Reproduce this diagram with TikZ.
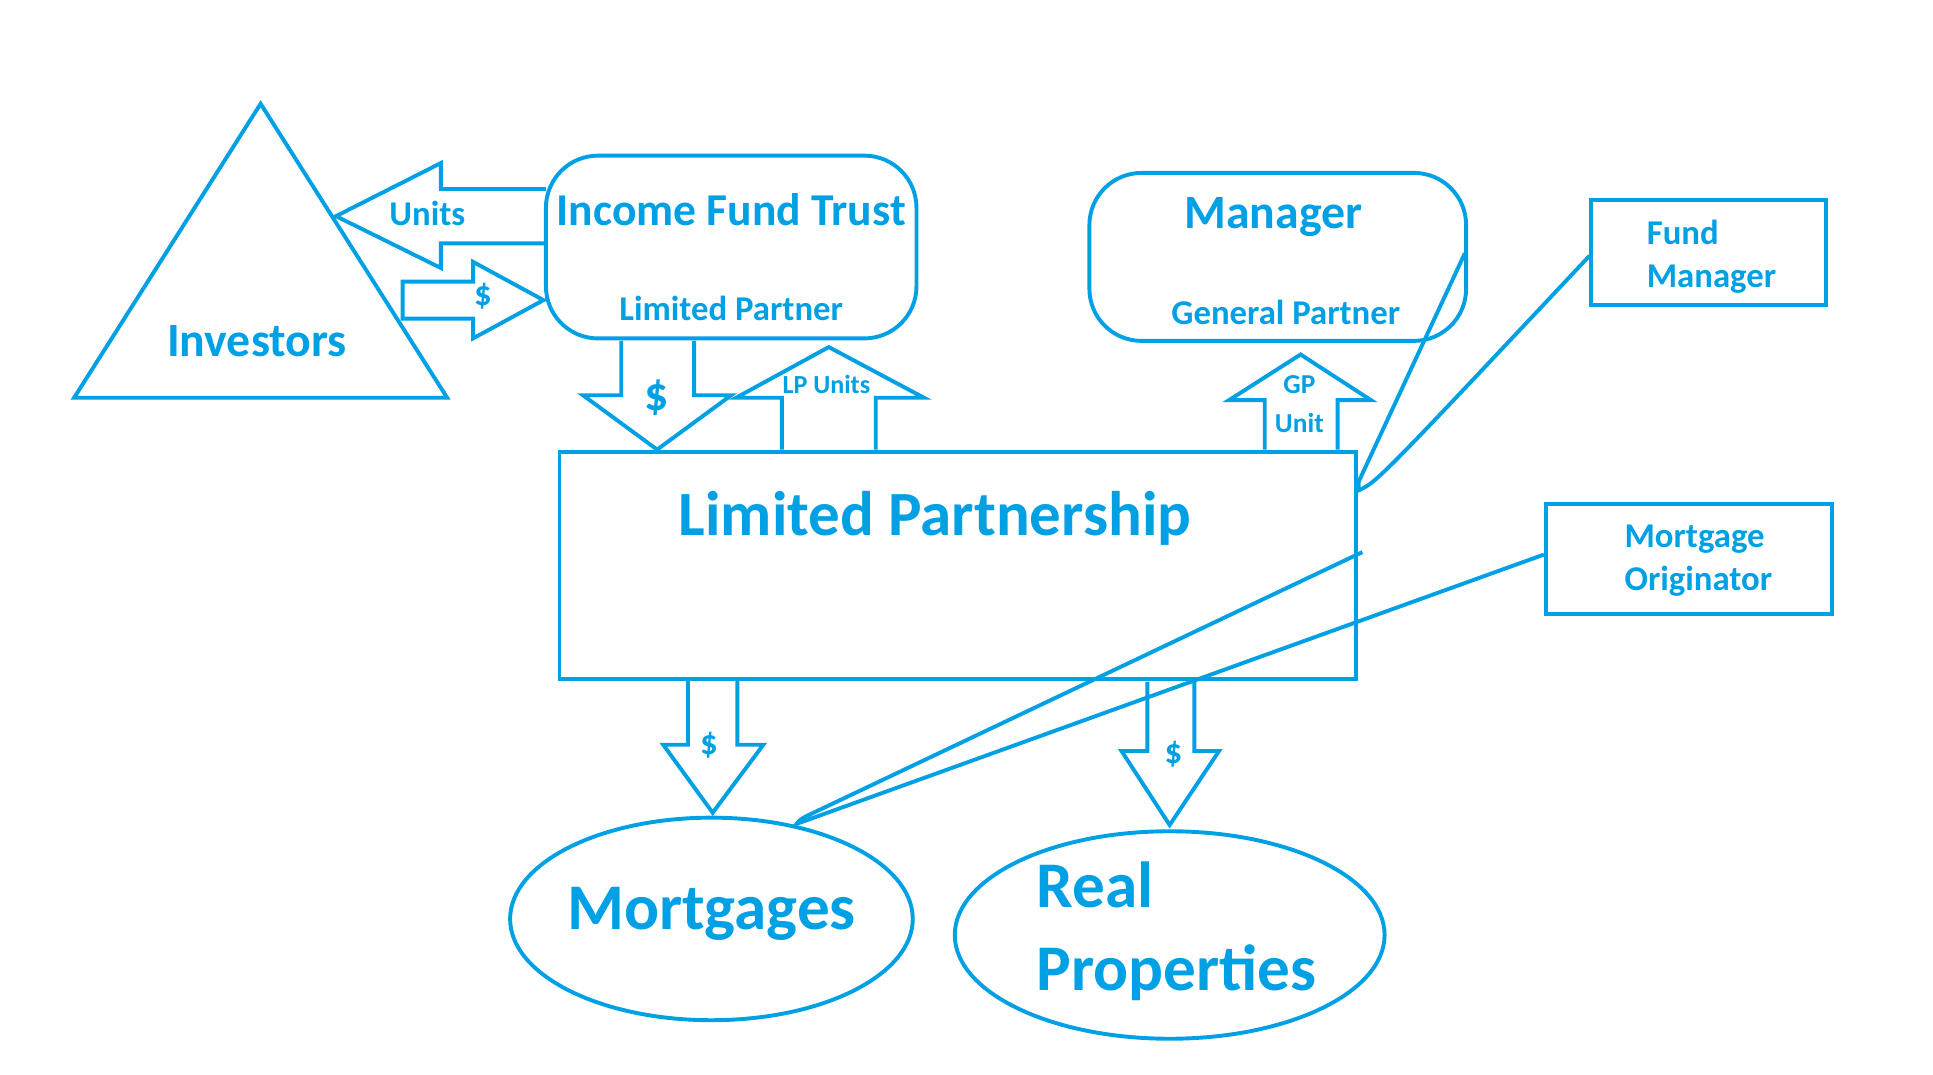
\documentclass[tikz,border=0pt]{standalone}
\usepackage{fontspec}
\setmainfont{Carlito}
\usetikzlibrary{positioning}
\definecolor{sky}{RGB}{0,160,228}

\begin{document}
\begin{tikzpicture}[x=0.01cm,y=-0.01cm,line width=0.9pt,draw=sky,
  every node/.style={text=sky,font=\bfseries},
  box/.style={draw,line width=0.9pt,inner sep=0pt}]
  \useasboundingbox (0,0) rectangle (1565,870);
  % investors
  \draw[line join=miter] (211,84) -- (60,322) -- (362,322) -- cycle;
  \node (inv) at (208,276) {\fontsize{11}{13}\selectfont Investors};
  % trust and manager
  \draw[rounded corners=12pt] (442,126) rectangle (742,274);
  \node (ift) at (592,170) {\fontsize{10.5}{13}\selectfont Income Fund Trust};
  \node (lpr) at (592,250) {\fontsize{8}{10}\selectfont Limited Partner};
  \draw[rounded corners=12pt] (882,140) rectangle (1187,276);
  \node (mgr) at (1031,176) {\fontsize{11}{13}\selectfont Manager};
  \node (gpr) at (1041,253) {\fontsize{8}{10}\selectfont General Partner};
  % block arrows
  \draw (442,153) -- (357,153) -- (357,132) -- (272,175) -- (357,217) -- (357,197) -- (442,197);
  \node at (346,173) {\fontsize{8}{10}\selectfont Units};
  \draw (326,228) -- (383,228) -- (383,212) -- (440,243) -- (383,274) -- (383,258) -- (326,258) -- cycle;
  \node at (391,240) {\fontsize{8}{10}\selectfont \$};
  \draw (503,276) -- (503,320) -- (472,320) -- (532,364) -- (592,320) -- (562,320) -- (562,276);
  \node at (532,322) {\fontsize{11}{13}\selectfont \$};
  \draw (633,364) -- (633,322) -- (596,322) -- (671,281) -- (748,322) -- (709,322) -- (709,364);
  \node at (669,311) {\fontsize{6}{7}\selectfont LP Units};
  \draw (1024,364) -- (1024,324) -- (995,324) -- (1053,287) -- (1110,324) -- (1083,324) -- (1083,364);
  \node[align=center,font=\bfseries\fontsize{6.3}{9}\selectfont] at (1052,327) {GP\\ Unit};
  % limited partnership
  \draw (453,366) rectangle (1098,550);
  \node (lp) at (757,420) {\fontsize{14.5}{17}\selectfont Limited Partnership};
  % side boxes
  \draw (1288,162) rectangle (1478,247);
  \node[align=left,anchor=west,font=\bfseries\fontsize{8}{10}\selectfont] (fm) at (1320,208) {Fund\\ Manager};
  \draw (1252,408) rectangle (1483,497);
  \node[align=left,anchor=west,font=\bfseries\fontsize{8}{10}\selectfont] (mo) at (1302,454) {Mortgage\\ Originator};
  % callouts
  \draw (1186,205) -- (1100,390) -- (1100,397) .. controls (1115,390) .. (1287,207);
  \draw (1103,447) -- (665,655) .. controls (648,663) .. (645,667) -- (1250,449);
  % down arrows
  \draw (557,550) -- (557,603) -- (537,603) -- (577,658) -- (618,603) -- (597,603) -- (597,550);
  \node at (574,603) {\fontsize{8}{10}\selectfont \$};
  \draw (929,552) -- (929,608) -- (908,608) -- (947,668) -- (987,608) -- (967,608) -- (967,552);
  \node at (950,611) {\fontsize{8}{10}\selectfont \$};
  % ellipses
  \draw (576,744) ellipse [x radius=163,y radius=82];
  \node (mort) at (576,740) {\fontsize{15}{18}\selectfont Mortgages};
  \draw (947,757) ellipse [x radius=174,y radius=84];
  \node[align=left,anchor=west,font=\bfseries\fontsize{15}{19}\selectfont] (rp) at (826,754) {Real\\ Properties};
\end{tikzpicture}
\end{document}
